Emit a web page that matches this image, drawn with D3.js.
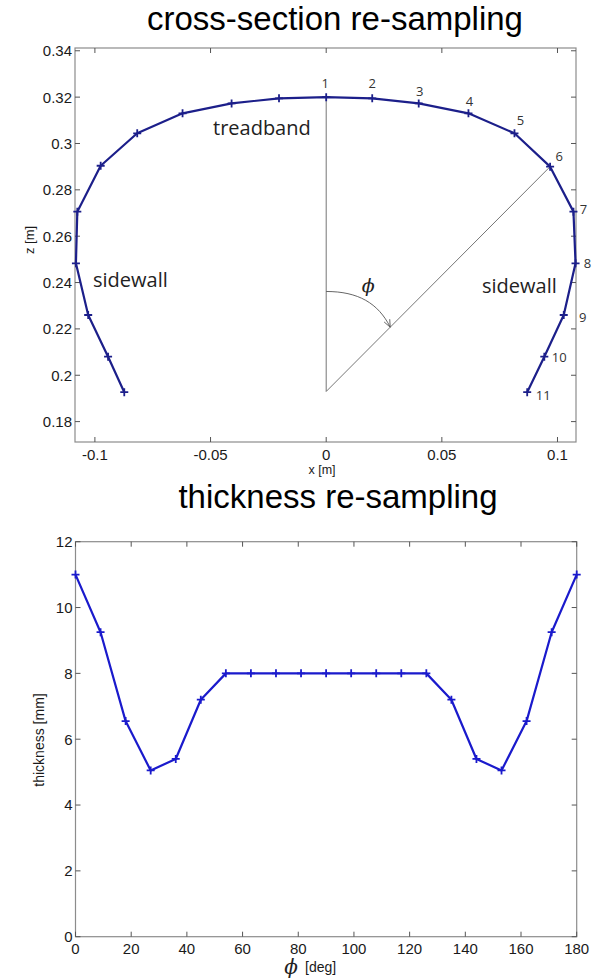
<!DOCTYPE html>
<html>
<head>
<meta charset="utf-8">
<script src="https://cdn.jsdelivr.net/npm/d3@7"></script>
<style>
  html, body { margin: 0; padding: 0; background: #fff; }
  svg { display: block; }
  .tick-label { font-family: "Liberation Sans", Arial, sans-serif; font-size: 15px; fill: #1a1a1a; }
  .axis-title { font-family: "Liberation Sans", Arial, sans-serif; font-size: 13px; fill: #1a1a1a; }
  .chart-title { font-family: "Liberation Sans", Arial, sans-serif; font-size: 33px; fill: #000; }
  .region { font-family: "Open Sans", sans-serif; font-size: 20px; fill: #222; }
  .pt-num { font-family: "Open Sans", sans-serif; font-size: 13px; fill: #333; }
  .phi { font-family: "DejaVu Serif", serif; font-style: italic; fill: #222; }
</style>
</head>
<body>
<svg id="fig" width="597" height="979"></svg>
<script>
// Tyre cross-section profile, re-sampled at 21 points (left bead -> crown -> right bead)
const sectionX = [-0.0873, -0.0943, -0.1029, -0.1082, -0.1076, -0.0975, -0.0817, -0.0621, -0.0409, -0.0204,
                  0, 0.0199, 0.0400, 0.0615, 0.0814, 0.0968, 0.1069, 0.1078, 0.1027, 0.0943, 0.0869];
const sectionZ = [0.1927, 0.2080, 0.2260, 0.2483, 0.2706, 0.2904, 0.3044, 0.3130, 0.3173, 0.3195,
                  0.3200, 0.3195, 0.3173, 0.3130, 0.3044, 0.2900, 0.2706, 0.2483, 0.2260, 0.2080, 0.1927];
// numbered points along the right half (index into the section arrays)
const numberedIdx = [10, 11, 12, 13, 14, 15, 16, 17, 18, 19, 20];
const numberedTxt = ["1", "2", "3", "4", "5", "6", "7", "8", "9", "10", "11"];
// angle origin and the reference point the angle is measured to
const phiOrigin = [0, 0.193];
const phiRefIdx = 15;

const xTicks = [-0.1, -0.05, 0, 0.05, 0.1];
const xTickLabels = ["-0.1", "-0.05", "0", "0.05", "0.1"];
const zTicks = [0.18, 0.2, 0.22, 0.24, 0.26, 0.28, 0.3, 0.32, 0.34];
const zTickLabels = ["0.18", "0.2", "0.22", "0.24", "0.26", "0.28", "0.3", "0.32", "0.34"];

// Thickness at each sampled angle
const phiDeg = [0, 9, 18, 27, 36, 45, 54, 63, 72, 81, 90, 99, 108, 117, 126, 135, 144, 153, 162, 171, 180];
const thickness = [11, 9.25, 6.55, 5.05, 5.4, 7.2, 8, 8, 8, 8, 8, 8, 8, 8, 8, 7.2, 5.4, 5.05, 6.55, 9.25, 11];
const phiTicks = [0, 20, 40, 60, 80, 100, 120, 140, 160, 180];
const thickTicks = [0, 2, 4, 6, 8, 10, 12];

const svg = d3.select("#fig");
const boxColor = "#8c8c8c";
const tickColor = "#555";
const tickLen = 5;

function frame(g, x, y, xt, xtl, yt, ytl, xLabelY) {
  const [x0, x1] = x.range();
  const [y0, y1] = y.range();
  g.append("rect").attr("x", x0).attr("y", y1).attr("width", x1 - x0).attr("height", y0 - y1)
    .attr("fill", "none").attr("stroke", boxColor).attr("stroke-width", 1.2);
  // inward ticks on all four sides
  xt.forEach(v => {
    const px = x(v);
    g.append("line").attr("x1", px).attr("x2", px).attr("y1", y0).attr("y2", y0 - tickLen).attr("stroke", tickColor);
    g.append("line").attr("x1", px).attr("x2", px).attr("y1", y1).attr("y2", y1 + tickLen).attr("stroke", tickColor);
  });
  yt.forEach(v => {
    const py = y(v);
    g.append("line").attr("x1", x0).attr("x2", x0 + tickLen).attr("y1", py).attr("y2", py).attr("stroke", tickColor);
    g.append("line").attr("x1", x1).attr("x2", x1 - tickLen).attr("y1", py).attr("y2", py).attr("stroke", tickColor);
  });
  g.selectAll(".xl").data(xt).enter().append("text").attr("class", "tick-label")
    .attr("x", d => x(d)).attr("y", xLabelY).attr("text-anchor", "middle")
    .text((d, i) => xtl[i]);
  g.selectAll(".yl").data(yt).enter().append("text").attr("class", "tick-label")
    .attr("x", x0 - 3).attr("y", d => y(d)).attr("dy", "0.36em").attr("text-anchor", "end")
    .text((d, i) => ytl[i]);
}

function plusMarks(g, pts, color, size) {
  g.selectAll(null).data(pts).enter().append("path")
    .attr("d", d => `M${d[0] - size},${d[1]}H${d[0] + size}M${d[0]},${d[1] - size}V${d[1] + size}`)
    .attr("stroke", color).attr("stroke-width", 1.8).attr("fill", "none");
}

// ---------- cross-section ----------
const xS = d3.scaleLinear().domain([-0.1086, 0.1080]).range([75, 576]);
const zS = d3.scaleLinear().domain([0.1712, 0.3412]).range([442, 48]);
const gTop = svg.append("g");

gTop.append("text").attr("class", "chart-title").attr("x", 335).attr("y", 30)
  .attr("text-anchor", "middle").text("cross-section re-sampling");

frame(gTop, xS, zS, xTicks, xTickLabels, zTicks, zTickLabels, 460);

// angle construction lines
const o = [xS(phiOrigin[0]), zS(phiOrigin[1])];
const p1 = [xS(sectionX[10]), zS(sectionZ[10])];
const p6 = [xS(sectionX[phiRefIdx]), zS(sectionZ[phiRefIdx])];
gTop.append("line").attr("x1", o[0]).attr("y1", o[1]).attr("x2", p1[0]).attr("y2", p1[1])
  .attr("stroke", "#666").attr("stroke-width", 0.9);
gTop.append("line").attr("x1", o[0]).attr("y1", o[1]).attr("x2", p6[0]).attr("y2", p6[1])
  .attr("stroke", "#666").attr("stroke-width", 0.9);

// curved arrow marking the angle
const arcStart = [o[0], o[1] - 100];
const t = 0.286;
const arcEnd = [o[0] + t * (p6[0] - o[0]), o[1] + t * (p6[1] - o[1])];
gTop.append("path")
  .attr("d", `M${arcStart[0]},${arcStart[1]} C${arcStart[0] + 32},${arcStart[1]} ${arcEnd[0] - 12},${arcEnd[1] - 24} ${arcEnd[0]},${arcEnd[1]}`)
  .attr("fill", "none").attr("stroke", "#555").attr("stroke-width", 0.9);
const ang = Math.atan2(24, 12);
const ah = 8;
gTop.append("path")
  .attr("d", `M${arcEnd[0] - ah * Math.cos(ang - 0.4)},${arcEnd[1] - ah * Math.sin(ang - 0.4)} L${arcEnd[0]},${arcEnd[1]} L${arcEnd[0] - ah * Math.cos(ang + 0.4)},${arcEnd[1] - ah * Math.sin(ang + 0.4)}`)
  .attr("fill", "none").attr("stroke", "#555").attr("stroke-width", 0.9);
gTop.append("text").attr("class", "phi").attr("x", o[0] + 42).attr("y", o[1] - 99)
  .attr("text-anchor", "middle").style("font-size", "19px").text("ϕ");

// profile
const sectionPts = sectionX.map((v, i) => [xS(v), zS(sectionZ[i])]);
gTop.append("path").attr("d", d3.line()(sectionPts))
  .attr("fill", "none").attr("stroke", "#1c1f8a").attr("stroke-width", 2.2).attr("stroke-linejoin", "round");
plusMarks(gTop, sectionPts, "#1c1f8a", 4);

// numbered point labels
const numOffsets = [[-1, -14], [0, -15], [1, -12], [1, -12], [6, -13], [9, -10], [10, -2], [12, 0], [19, 2], [15, 1], [16, 3]];
gTop.selectAll(".num").data(numberedIdx).enter().append("text").attr("class", "pt-num")
  .attr("x", (d, i) => xS(sectionX[d]) + numOffsets[i][0])
  .attr("y", (d, i) => zS(sectionZ[d]) + numOffsets[i][1])
  .attr("dy", "0.35em").attr("text-anchor", "middle")
  .text((d, i) => numberedTxt[i]);

gTop.append("text").attr("class", "region").attr("x", 213).attr("y", 135).text("treadband");
gTop.append("text").attr("class", "region").attr("x", 93).attr("y", 287).text("sidewall");
gTop.append("text").attr("class", "region").attr("x", 482).attr("y", 293).text("sidewall");

gTop.append("text").attr("class", "axis-title").attr("x", 322).attr("y", 474)
  .attr("text-anchor", "middle").style("font-size", "12.5px").text("x [m]");
gTop.append("text").attr("class", "axis-title")
  .attr("transform", "translate(34,240) rotate(-90)").attr("text-anchor", "middle").text("z [m]");

// ---------- thickness ----------
const pS = d3.scaleLinear().domain([0, 180]).range([75.5, 576.7]);
const tS = d3.scaleLinear().domain([0, 12]).range([936.7, 541.7]);
const gBot = svg.append("g");

gBot.append("text").attr("class", "chart-title").attr("x", 338).attr("y", 508)
  .attr("text-anchor", "middle").text("thickness re-sampling");

frame(gBot, pS, tS, phiTicks, phiTicks.map(String), thickTicks, thickTicks.map(String), 954);

const thickPts = phiDeg.map((v, i) => [pS(v), tS(thickness[i])]);
gBot.append("path").attr("d", d3.line()(thickPts))
  .attr("fill", "none").attr("stroke", "#1a1acc").attr("stroke-width", 2.2).attr("stroke-linejoin", "round");
plusMarks(gBot, thickPts, "#1a1acc", 4);

gBot.append("text").attr("class", "axis-title").style("font-size", "14px")
  .attr("transform", "translate(44,740) rotate(-90)").attr("text-anchor", "middle").text("thickness [mm]");
gBot.append("text").attr("class", "phi").attr("x", 291).attr("y", 974)
  .attr("text-anchor", "middle").style("font-size", "20px").text("ϕ");
gBot.append("text").attr("class", "axis-title").style("font-size", "14px").attr("x", 305).attr("y", 972).text("[deg]");
</script>
</body>
</html>
